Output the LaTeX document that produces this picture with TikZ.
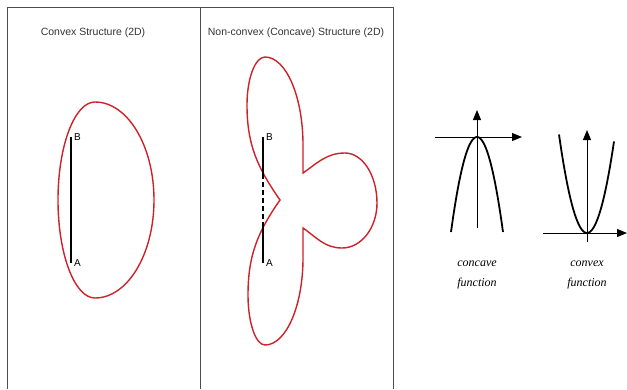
\documentclass[tikz,border=0pt]{standalone}
\usepackage{fontspec}
\setmainfont{Liberation Serif}
\setsansfont{Liberation Sans}
\definecolor{shapered}{HTML}{CC2229}
\usetikzlibrary{arrows.meta, positioning}
\tikzset{
	titlenode/.style={
			font=\sffamily\fontsize{10.5}{12}\selectfont,
			text=black!80,
			inner sep=0pt
		},
	pointnode/.style={
			font=\sffamily\fontsize{10}{12}\selectfont,
			inner sep=0pt,
			anchor=west
		},
	funcnode/.style={
			font=\itshape\fontsize{12}{20}\selectfont,
			align=center,
			inner sep=0pt
		},
	frameline/.style={
			draw=black!70,
			line width=0.9pt
		},
	outline/.style={
			draw=shapered,
			line width=1.4pt
		},
	segment/.style={
			draw=black,
			line width=1.3pt
		},
	axis/.style={
			draw=black,
			line width=1pt,
			-{Triangle[length=10pt,width=8pt]}
		},
	curve/.style={
			draw=black,
			line width=1.8pt
		}
}

\begin{document}
\begin{tikzpicture}[x=1pt, y=1pt]
\useasboundingbox (0,0) rectangle (627,-389);

% frame of the two panels
\coordinate (tl) at (7,-7);
\coordinate (tm) at (200,-7);
\coordinate (tr) at (393,-7);
\coordinate (bl) at (7,-389);
\coordinate (bm) at (200,-389);
\coordinate (br) at (393,-389);
\draw[frameline] (bl) -- (tl) -- (tr) -- (br);
\draw[frameline] (tm) -- (bm);

\node[titlenode] (t1) at (93,-33) {Convex Structure (2D)};
\node[titlenode] (t2) at (296,-33) {Non-convex (Concave) Structure (2D)};

% convex shape
\coordinate (ctop) at (95,-102);
\draw[outline] (ctop)
  arc[start angle=90, end angle=-90, x radius=59, y radius=98]
  arc[start angle=-90, end angle=-270, x radius=37, y radius=98] -- cycle;
\coordinate (b1) at (71,-137);
\coordinate (a1) at (71,-263);
\draw[segment] (a1) -- (b1);
\node[pointnode] (lb1) at ([xshift=3pt]b1) {B};
\node[pointnode] (la1) at ([xshift=3pt]a1) {A};

% non-convex shape: upper, right and lower lobe
\coordinate (notch) at (280,-200);
\coordinate (upleft) at (247,-105);
\coordinate (cornerup) at (303,-173);
\coordinate (rtop) at (345,-153);
\coordinate (cornerlo) at (303,-228);
\coordinate (loright) at (303,-258);
\draw[outline, line join=miter] (notch)
  to[out=125, in=-90] (upleft)
  arc[start angle=180, end angle=90, x radius=18, y radius=48]
  arc[start angle=90, end angle=0, x radius=38, y radius=88]
  -- (cornerup)
  to[out=35, in=180] (rtop)
  arc[start angle=90, end angle=0, x radius=32, y radius=50]
  arc[start angle=0, end angle=-90, x radius=35, y radius=45]
  to[out=180, in=-35] (cornerlo)
  -- (loright)
  arc[start angle=0, end angle=-90, x radius=38, y radius=87]
  arc[start angle=-90, end angle=-180, x radius=17, y radius=50]
  to[out=90, in=-125] (notch) -- cycle;
\coordinate (b2) at (263,-137);
\coordinate (c2) at (263,-174);
\coordinate (d2) at (263,-225);
\coordinate (a2) at (263,-263);
\draw[segment] (b2) -- (c2);
\draw[segment, dash pattern=on 5pt off 3pt] (c2) -- (d2);
\draw[segment] (d2) -- (a2);
\node[pointnode] (lb2) at ([xshift=3pt]b2) {B};
\node[pointnode] (la2) at ([xshift=3pt]a2) {A};

% concave function
\coordinate (cvxl) at (435,-137);
\coordinate (cvxr) at (522,-137);
\coordinate (cvxb) at (477,-228);
\coordinate (cvxt) at (477,-110);
\draw[axis] (cvxl) -- (cvxr);
\draw[axis] (cvxb) -- (cvxt);
\draw[curve] plot[domain=-26:26, samples=40] ({477+\x}, {-137-95*(\x/26)^2});
\node[funcnode] (cclabel) at (477,-275) {concave\\function};

% convex function
\coordinate (vexl) at (543,-233);
\coordinate (vexr) at (627,-233);
\coordinate (vexb) at (587,-242);
\coordinate (vext) at (587,-130);
\draw[axis] (vexl) -- (vexr);
\draw[axis] (vexb) -- (vext);
\draw[curve] plot[domain=-28:27, samples=40] ({587+\x}, {-233+95*(\x/27.5)^2});
\node[funcnode] (cvlabel) at (587,-275) {convex\\function};
\end{tikzpicture}
\end{document}
